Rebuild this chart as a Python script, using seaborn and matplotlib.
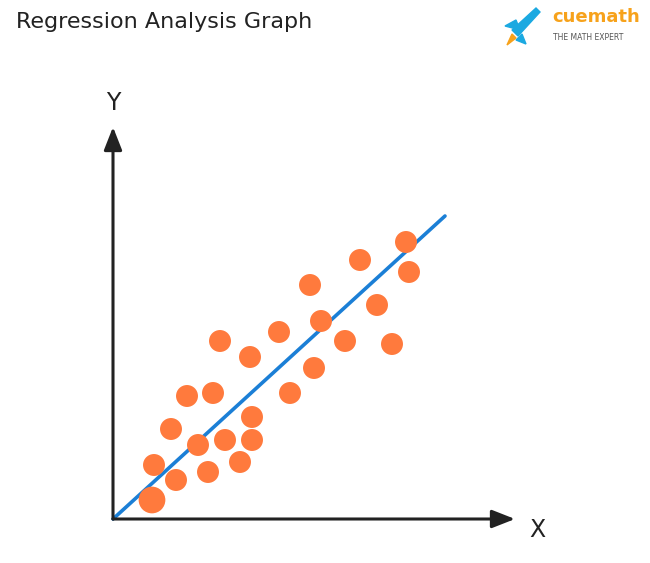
import matplotlib
matplotlib.use("Agg")
import matplotlib.pyplot as plt
from matplotlib.patches import Polygon, Circle
import seaborn as sns
import pandas as pd

x_vals = [39, 63, 41, 95, 127, 85, 112, 139, 58, 139, 74, 100, 177, 107, 137, 201, 166, 208, 232, 197, 264, 279, 247, 296, 293]
y_vals = [19, 39, 54, 47, 57, 74, 79, 79, 90, 102, 123, 126, 126, 178, 162, 151, 187, 198, 178, 234, 214, 175, 259, 247, 277]
sizes = [370] + [250] * 24
line_x = [0, 332]
line_y = [0, 303]

sns.set_style("white")
plt.rcParams['font.family'] = ['DejaVu Sans']
fig = plt.figure(figsize=(6.5, 5.63), dpi=100)
ax = fig.add_axes([0, 0, 1, 1])
ax.set_xlim(-113, 537)
ax.set_ylim(-44, 519)
ax.axis("off")

df = pd.DataFrame({"x": x_vals, "y": y_vals, "s": sizes})
sns.lineplot(x=line_x, y=line_y, ax=ax, color="#1B7FD6", linewidth=2.6, zorder=2)
ax.scatter(df.x, df.y, s=df.s, color="#FF7A3D", edgecolor="none", zorder=3)

arrow = dict(arrowstyle="-|>,head_length=1.4,head_width=0.55", color="#222222", lw=2.2, shrinkA=0, shrinkB=0)
ax.annotate("", xy=(0, 392), xytext=(0, 0), arrowprops=arrow)
ax.annotate("", xy=(402, 0), xytext=(0, 0), arrowprops=arrow)
ax.text(0, 416, "Y", fontsize=17, ha="center", va="center", color="#222222")
ax.text(424, -11, "X", fontsize=17, ha="center", va="center", color="#222222")

fig.text(16/650, 1 - 22/563, "Regression Analysis Graph", fontsize=16, ha="left", va="center", color="#222222")
fig.text(552/650, 1 - 17/563, "cuemath", fontsize=13, ha="left", va="center", color="#F7A21B", fontweight="bold")
fig.text(553/650, 1 - 38/563, "THE MATH EXPERT", fontsize=5.5, ha="left", va="center", color="#555555")

# rocket logo (drawn as shapes, in pixel coords of the figure)
def P(px, py):
    return (px - 113, 519 - py)
ax.add_patch(Polygon([P(512, 30), P(536, 8), P(540, 12), P(518, 36)], closed=True, color="#1BA9E1", zorder=4))
ax.add_patch(Polygon([P(505, 26), P(516, 20), P(520, 30)], closed=True, color="#1BA9E1", zorder=4))
ax.add_patch(Polygon([P(522, 34), P(526, 44), P(516, 40)], closed=True, color="#1BA9E1", zorder=4))
ax.add_patch(Polygon([P(512, 34), P(516, 38), P(507, 45)], closed=True, color="#F7A21B", zorder=4))

fig.savefig("out.png", dpi=100)
